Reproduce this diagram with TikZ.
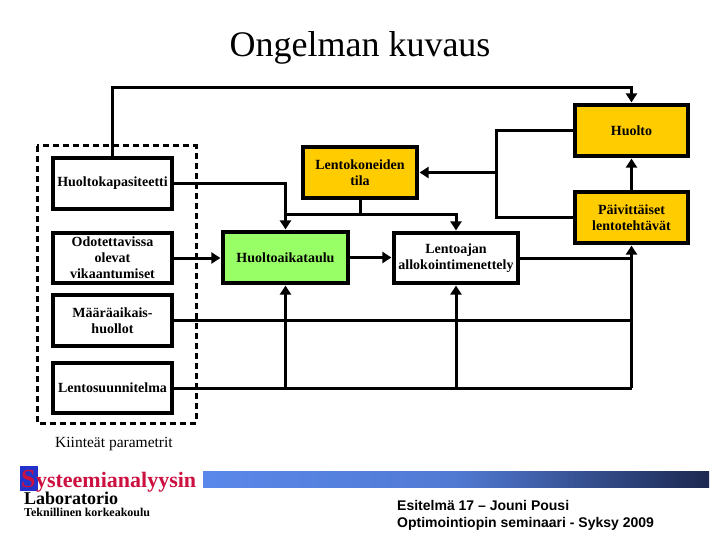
\documentclass[tikz,border=0pt]{standalone}
\usepackage{fontspec}
\setmainfont{Liberation Serif}
\newfontfamily\arialfont{Liberation Sans}
\usetikzlibrary{arrows.meta,calc}
\definecolor{orng}{HTML}{FFCC00}
\definecolor{grn}{HTML}{99FF66}
\definecolor{logored}{HTML}{CC1040}
\definecolor{logoblue}{HTML}{2233CC}
\definecolor{barlight}{HTML}{5A88EA}
\definecolor{bardark}{HTML}{1C2850}
\begin{document}
\begin{tikzpicture}[x=1pt,y=-1pt,
  box/.style={draw, line width=3.2pt, align=center, inner sep=0pt, fill=white,
    font=\fontsize{14}{16}\selectfont\bfseries, text=black},
  conn/.style={line width=3pt},
  arr/.style={conn, -{Triangle[length=9pt,width=11pt]}, shorten >=1pt}]
\useasboundingbox (0,0) rectangle (720,540);

% title
\node[font=\fontsize{36}{36}\selectfont, anchor=base, inner sep=0pt] (title) at (360,57) {Ongelman kuvaus};

% dashed group
\draw[line width=3pt, dash pattern=on 6pt off 4pt] (37,146) rectangle (196,423);
\node[anchor=base west, inner sep=0pt, font=\fontsize{15.5}{16}\selectfont] (kiint) at (55,447) {Kiinteät parametrit};

% boxes
\node[box, minimum width=119pt, minimum height=51pt] (hk) at (112.5,183.5) {Huoltokapasiteetti};
\node[box, minimum width=119pt, minimum height=50pt] (od) at (112.5,258) {Odotettavissa\\olevat\\vikaantumiset};
\node[box, minimum width=119pt, minimum height=51pt] (ma) at (112.5,320.5) {Määräaikais-\\huollot};
\node[box, minimum width=119pt, minimum height=50pt] (ls) at (112.5,388) {Lentosuunnitelma};
\node[box, fill=orng, minimum width=114pt, minimum height=51pt] (lt) at (360,172.5) {Lentokoneiden\\tila};
\node[box, fill=grn, minimum width=125pt, minimum height=51pt] (ha) at (285.5,257.5) {Huoltoaikataulu};
\node[box, minimum width=124pt, minimum height=50pt] (la) at (456,258) {Lentoajan\\allokointimenettely};
\node[box, fill=orng, minimum width=113pt, minimum height=51pt] (hu) at (631.5,130.5) {Huolto};
\node[box, fill=orng, minimum width=113pt, minimum height=51pt] (pa) at (631.5,217.5) {Päivittäiset\\lentotehtävät};

% connectors
\draw[arr] (hk.north) |- (hu.north |- 0,88) -- (hu.north);
\draw[arr] (hk.east) -| (ha.north);
\draw[conn] (lt.south) -- (lt.south |- 0,215);
\draw[arr] (ha.north |- 0,215) -| (la.north);
\draw[arr] (od.east) -- (od.east -| ha.west);
\draw[arr] (ha.east) -- (ha.east -| la.west);
\draw[conn] (hu.west) -- (hu.west -| 496,0) -- (pa.west -| 496,0) -- (pa.west);
\draw[arr] (lt.east -| 496,0) -- (lt.east);
\draw[arr] (pa.north) -- (hu.south);
\draw[conn] (la.east) -- (la.east -| pa.south);
\draw[arr] (pa.south |- ls.east) -- (pa.south);
\draw[conn] (ma.east) -- (ma.east -| pa.south);
\draw[conn] (ls.east) -- (ls.east -| pa.south);
\draw[arr] (ha.south |- ls.east) -- (ha.south);
\draw[arr] (la.south |- ls.east) -- (la.south);

% footer logo
\fill[logoblue] (20,466) rectangle (38,491);
\node[anchor=base west, inner sep=0pt, text=logored, font=\fontsize{26}{26}\selectfont\bfseries] (S) at (21,487) {S};
\node[anchor=base west, inner sep=0pt, text=logored, font=\fontsize{22}{22}\selectfont\bfseries] (sys) at (S.base east) {ysteemianalyysin};
\shade[left color=barlight, right color=bardark, middle color=barlight!85!bardark] (203,471) rectangle (709,487);
\node[anchor=base west, inner sep=0pt, font=\fontsize{18}{18}\selectfont\bfseries] (lab) at (24,504) {Laboratorio};
\node[anchor=base west, inner sep=0pt, font=\fontsize{12}{12}\selectfont\bfseries] (tkk) at (24,516) {Teknillinen korkeakoulu};

% footer right
\node[anchor=base west, inner sep=0pt, font=\arialfont\fontsize{14}{17}\selectfont\bfseries] (f1) at (397,510) {Esitelmä 17 – Jouni Pousi};
\node[anchor=base west, inner sep=0pt, font=\arialfont\fontsize{14}{17}\selectfont\bfseries] (f2) at (397,527) {Optimointiopin seminaari - Syksy 2009};
\end{tikzpicture}
\end{document}
